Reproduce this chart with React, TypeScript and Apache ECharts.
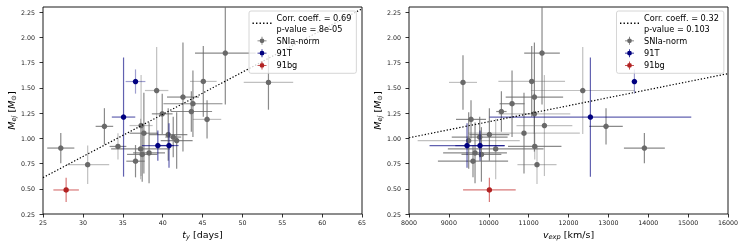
import React, { useEffect, useRef } from "react";
import * as echarts from "echarts";

// group of each supernova: 0 = SNIa-norm, 1 = 91T, 2 = 91bg
const groups = [0, 0, 0, 0, 0, 0, 0, 0, 0, 0, 0, 0, 0, 0, 0, 0, 0, 0, 0, 0, 0, 0, 1, 1, 1, 1, 2];
const groupNames = ["SNIa-norm", "91T", "91bg"];

// rise time t_y [days]
const tY = [27.23, 30.6, 32.7, 34.4, 36.6, 37.24, 37.3, 37.44, 37.65, 38.3, 39.25, 39.95, 40.7, 41.33, 41.76, 42.55, 43.6, 43.8, 45.1, 45.57, 47.86, 53.27, 35.1, 36.6, 39.4, 40.8, 27.9];
const tYErr = [1.7, 2.7, 1.1, 1.05, 1.15, 3.7, 1.45, 1.9, 1.8, 2.0, 1.47, 1.3, 2.4, 1.0, 2.0, 2.0, 2.6, 3.7, 1.67, 1.78, 3.8, 3.1, 1.47, 1.24, 2.0, 1.2, 1.6];
const tYErrFaint = [0, 1, 0, 0, 0, 0, 1, 0, 0, 0, 1, 0, 0, 0, 0, 0, 0, 0, 1, 1, 0, 1, 0, 1, 0, 0, 0];

// expansion velocity v_exp [km/s]
const vExp = [13903, 11210, 12941, 11153, 9605, 10174, 11396, 9816, 10884, 9656, 12357, 11145, 10016, 9773, 9497, 11145, 10317, 10584, 11077, 9555, 11336, 9354, 12549, 13653, 9781, 9455, 10016];
const vExpErr = [513, 490, 420, 670, 880, 1200, 700, 500, 1400, 800, 1300, 900, 500, 700, 1280, 720, 130, 313, 836, 376, 447, 351, 2530, 60, 620, 940, 660];
const vExpErrFaint = [0, 1, 0, 0, 0, 0, 1, 0, 1, 0, 1, 1, 0, 0, 1, 0, 0, 0, 1, 0, 0, 1, 0, 1, 0, 0, 0];

// ejecta mass M_ej [M_sun]
const mEj = [0.903, 0.738, 1.118, 0.919, 0.773, 0.894, 1.126, 0.84, 1.05, 0.855, 1.473, 1.242, 1.037, 1.012, 0.977, 1.408, 1.265, 1.342, 1.563, 1.187, 1.844, 1.553, 1.21, 1.562, 0.928, 0.928, 0.488];
const mEjErr = [0.15, 0.19, 0.18, 0.13, 0.16, 0.3, 0.5, 0.27, 0.4, 0.3, 0.43, 0.2, 0.26, 0.2, 0.28, 0.54, 0.2, 0.33, 0.35, 0.19, 0.51, 0.27, 0.59, 0.12, 0.15, 0.22, 0.12];
const mEjErrFaint = [0, 1, 0, 1, 0, 1, 1, 0, 0, 0, 1, 0, 0, 0, 0, 0, 0, 0, 0, 0, 0, 0, 0, 1, 0, 0, 0];

// linear fits [slope, intercept]
const fitLeft = [0.0418, -0.435];
const fitRight = [0.0000794, 0.3698];
const corrLabels = ["Corr. coeff. = 0.69\np-value = 8e-05", "Corr. coeff. = 0.32\np-value = 0.103"];

const xTicksLeft = [25, 30, 35, 40, 45, 50, 55, 60, 65];
const xTicksRight = [8000, 9000, 10000, 11000, 12000, 13000, 14000, 15000, 16000];
const yTicks = [0.25, 0.5, 0.75, 1.0, 1.25, 1.5, 1.75, 2.0, 2.25];

const FONT = "DejaVu Sans";
const markerColors = ["#696969", "#000080", "#b22222"];
const errColors = [
  ["rgba(105,105,105,0.78)", "rgba(105,105,105,0.42)"],
  ["rgba(0,0,128,0.62)", "rgba(0,0,128,0.38)"],
  ["rgba(190,30,30,0.6)", "rgba(190,30,30,0.45)"],
];
const iconPath =
  "path://M0 3.6H9V4.4H0Z M4.1 0H4.9V8H4.1Z M6.9 4A2.4 2.4 0 1 1 2.1 4A2.4 2.4 0 1 1 6.9 4Z";
const dottedIcon =
  "path://M0 0H1.2V1.2H0Z M3.1 0H4.3V1.2H3.1Z M6.2 0H7.4V1.2H6.2Z M9.3 0H10.5V1.2H9.3Z M12.4 0H13.6V1.2H12.4Z M15.5 0H16.7V1.2H15.5Z";

export default function App() {
  const ref = useRef<HTMLDivElement>(null);
  useEffect(() => {
    if (!ref.current) return;
    const chart = echarts.init(ref.current, null, { renderer: "svg" });
    const yMin = 0.25;
    const yMax = 2.3;
    const panels = [
      { x: tY, xe: tYErr, xf: tYErrFaint, fit: fitLeft, label: corrLabels[0], xMin: 25, xMax: 65, ticks: xTicksLeft, gridLeft: 43, legendLeft: 249, xName: "{i|t}{s|y}{n| [days]}" },
      { x: vExp, xe: vExpErr, xf: vExpErrFaint, fit: fitRight, label: corrLabels[1], xMin: 8000, xMax: 16000, ticks: xTicksRight, gridLeft: 409, legendLeft: 616.5, xName: "{i|v}{s|exp}{n| [km/s]}" },
    ];
    const rich = {
      i: { fontFamily: FONT, fontStyle: "italic", fontSize: 9.5, lineHeight: 12, color: "#000" },
      s: { fontFamily: FONT, fontStyle: "italic", fontSize: 6.7, lineHeight: 8, verticalAlign: "bottom", color: "#000" },
      o: { fontFamily: FONT, fontSize: 6.7, lineHeight: 8, verticalAlign: "bottom", color: "#000" },
      n: { fontFamily: FONT, fontSize: 9.5, lineHeight: 12, color: "#000" },
    };
    const series: any[] = [];
    panels.forEach((p, pi) => {
      series.push({
        type: "line",
        name: p.label,
        xAxisIndex: pi,
        yAxisIndex: pi,
        color: "#000",
        data: [
          [p.xMin, p.fit[0] * p.xMin + p.fit[1]],
          [p.xMax, p.fit[0] * p.xMax + p.fit[1]],
        ],
        symbol: "none",
        silent: true,
        itemStyle: { color: "#000" },
        lineStyle: { color: "#000", width: 1.2, type: [1.3, 1.9] },
        z: 9,
      });
      [0, 1, 2].forEach((g) => {
        const idx = groups.map((gg, i) => (gg === g ? i : -1)).filter((i) => i >= 0);
        series.push({
          type: "custom",
          name: "err-" + pi + "-" + g,
          xAxisIndex: pi,
          yAxisIndex: pi,
          silent: true,
          z: 2 + g * 2,
          data: idx.map((i) => [p.x[i], mEj[i], p.xe[i], mEjErr[i], p.xf[i], mEjErrFaint[i]]),
          encode: { x: 0, y: 1 },
          renderItem: (params: any, api: any) => {
            const x = api.value(0);
            const y = api.value(1);
            const xe = api.value(2);
            const ye = api.value(3);
            const xf = api.value(4);
            const yf = api.value(5);
            const l = api.coord([Math.max(x - xe, p.xMin), y]);
            const r = api.coord([Math.min(x + xe, p.xMax), y]);
            const b = api.coord([x, Math.max(y - ye, yMin)]);
            const t = api.coord([x, Math.min(y + ye, yMax)]);
            return {
              type: "group",
              children: [
                { type: "line", shape: { x1: l[0], y1: l[1], x2: r[0], y2: r[1] }, style: { stroke: errColors[g][xf ? 1 : 0], lineWidth: 1.2 } },
                { type: "line", shape: { x1: b[0], y1: b[1], x2: t[0], y2: t[1] }, style: { stroke: errColors[g][yf ? 1 : 0], lineWidth: 1.2 } },
              ],
            };
          },
        });
        series.push({
          type: "scatter",
          name: groupNames[g],
          xAxisIndex: pi,
          yAxisIndex: pi,
          symbolSize: 5.5,
          itemStyle: { color: markerColors[g], opacity: 1 },
          z: 3 + g * 2,
          data: idx.map((i) => [p.x[i], mEj[i]]),
        });
      });
    });

    const option: any = {
      animation: false,
      grid: panels.map((p) => ({
        left: p.gridLeft,
        top: 7,
        width: 319,
        height: 207,
        show: true,
        borderColor: "#000",
        borderWidth: 0.9,
        backgroundColor: "transparent",
      })),
      xAxis: panels.map((p, pi) => ({
        type: "value",
        gridIndex: pi,
        min: p.xMin,
        max: p.xMax,
        interval: p.ticks[1] - p.ticks[0],
        axisLine: { show: false },
        splitLine: { show: false },
        axisTick: { show: true, length: 3.5, customValues: p.ticks, lineStyle: { color: "#000", width: 0.8 } },
        axisLabel: { customValues: p.ticks, fontFamily: FONT, fontSize: 6.3, color: "#222", margin: 5, formatter: (v: number) => String(v) },
        name: p.xName,
        nameLocation: "middle",
        nameGap: 14,
        nameTextStyle: { rich },
      })),
      yAxis: panels.map((p, pi) => ({
        type: "value",
        gridIndex: pi,
        min: yMin,
        max: yMax,
        axisLine: { show: false },
        splitLine: { show: false },
        axisTick: { show: true, length: 3.5, customValues: yTicks, lineStyle: { color: "#000", width: 0.8 } },
        axisLabel: { customValues: yTicks, fontFamily: FONT, fontSize: 6.3, color: "#222", margin: 8, formatter: (v: number) => v.toFixed(2) },
        name: "{i|M}{s|ej}{n| [}{i|M}{o|\u2299}{n|]}",
        nameLocation: "middle",
        nameGap: 25,
        nameRotate: 90,
        nameTextStyle: { rich },
      })),
      legend: panels.map((p) => ({
        orient: "vertical",
        left: p.legendLeft,
        top: 11,
        z: 20,
        itemWidth: 19,
        itemHeight: 8,
        itemGap: 1.6,
        padding: [1.5, 5, 2.5, 3.5],
        backgroundColor: "rgba(255,255,255,0.8)",
        borderColor: "#cccccc",
        borderWidth: 0.8,
        borderRadius: 2,
        selectedMode: false,
        textStyle: { fontFamily: FONT, fontSize: 8.2, lineHeight: 10.7, color: "#000" },
        data: [
          { name: p.label, icon: dottedIcon, itemStyle: { color: "#000" } },
          { name: groupNames[0], icon: iconPath },
          { name: groupNames[1], icon: iconPath },
          { name: groupNames[2], icon: iconPath },
        ],
      })),
      series,
    };
    chart.setOption(option);
    return () => chart.dispose();
  }, []);
  return <div ref={ref} style={{ position: "fixed", left: 0, top: 0, width: 747, height: 249 }} />;
}
